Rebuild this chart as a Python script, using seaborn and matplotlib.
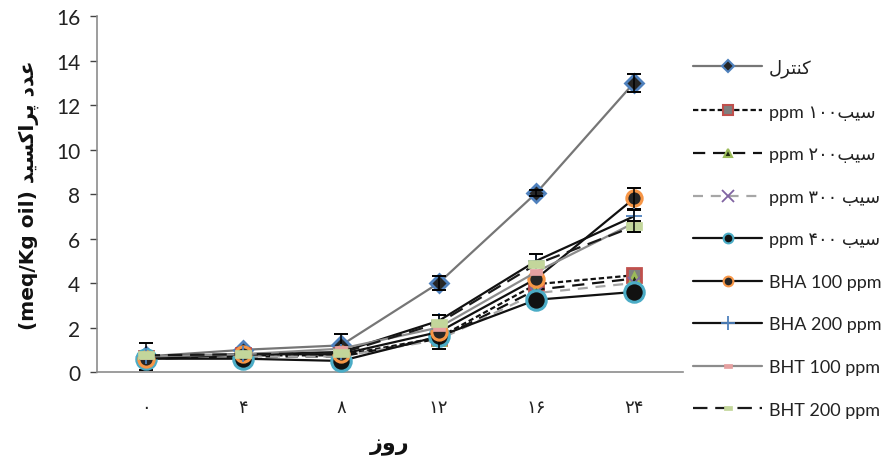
import matplotlib
matplotlib.use("Agg")
import matplotlib.pyplot as plt
from matplotlib.lines import Line2D
import seaborn as sns
import pandas as pd
import numpy as np

# ---------------- data ----------------
days = ["۰", "۴", "۸", "۱۲", "۱۶", "۲۴"]
control = [0.70, 1.00, 1.20, 4.00, 8.05, 13.00]
apple100 = [0.65, 0.75, 0.75, 1.55, 3.95, 4.35]
apple200 = [0.60, 0.70, 0.70, 1.50, 3.70, 4.20]
apple300 = [0.60, 0.70, 0.70, 1.45, 3.55, 4.00]
apple400 = [0.60, 0.60, 0.50, 1.60, 3.25, 3.60]
bha100 = [0.60, 0.80, 0.80, 1.80, 4.20, 7.80]
bha200 = [0.70, 0.80, 0.90, 2.30, 5.00, 7.00]
bht100 = [0.70, 0.80, 1.05, 2.00, 4.50, 6.70]
bht200 = [0.75, 0.80, 0.85, 2.20, 4.85, 6.55]

err_control = [0.60, 0.10, 0.50, 0.30, 0.15, 0.40]
err_apple400 = [0.0, 0.0, 0.0, 0.55, 0.0, 0.0]
err_bha100 = [0.0, 0.0, 0.0, 0.0, 0.0, 0.45]
err_bha200 = [0.10, 0.10, 0.10, 0.25, 0.30, 0.30]
err_bht200 = [0.0, 0.0, 0.0, 0.0, 0.0, 0.25]

# ---------------- minimal Persian shaping for DejaVu Sans ----------------
FORMS = {
    "ا": (0xFE8D, 0xFE8E, None, None),
    "ب": (0xFE8F, 0xFE90, 0xFE91, 0xFE92),
    "پ": (0xFB56, 0xFB57, 0xFB58, 0xFB59),
    "ت": (0xFE95, 0xFE96, 0xFE97, 0xFE98),
    "د": (0xFEA9, 0xFEAA, None, None),
    "ر": (0xFEAD, 0xFEAE, None, None),
    "ز": (0xFEAF, 0xFEB0, None, None),
    "س": (0xFEB1, 0xFEB2, 0xFEB3, 0xFEB4),
    "ع": (0xFEC9, 0xFECA, 0xFECB, 0xFECC),
    "ک": (0xFB8E, 0xFB8F, 0xFB90, 0xFB91),
    "ل": (0xFEDD, 0xFEDE, 0xFEDF, 0xFEE0),
    "ن": (0xFEE5, 0xFEE6, 0xFEE7, 0xFEE8),
    "و": (0xFEED, 0xFEEE, None, None),
    "ی": (0xFBFC, 0xFBFD, 0xFBFE, 0xFBFF),
}


def fa(word):
    """Shape a Persian word and return it in visual (left-to-right) order."""
    out = []
    n = len(word)
    for i, ch in enumerate(word):
        if ch not in FORMS:
            out.append(ch)
            continue
        f = FORMS[ch]
        prev_joins = i > 0 and word[i - 1] in FORMS and FORMS[word[i - 1]][2] is not None
        next_joins = f[2] is not None and i < n - 1 and word[i + 1] in FORMS
        if prev_joins and next_joins:
            code = f[3]
        elif prev_joins:
            code = f[1]
        elif next_joins:
            code = f[2]
        else:
            code = f[0]
        out.append(chr(code))
    return "".join(reversed(out))


labels = [
    fa("کنترل"),
    "ppm ۱۰۰" + fa("سیب"),
    "ppm ۲۰۰" + fa("سیب"),
    "ppm ۳۰۰ " + fa("سیب"),
    "ppm ۴۰۰ " + fa("سیب"),
    "BHA 100 ppm",
    "BHA 200 ppm",
    "BHT 100 ppm",
    "BHT 200 ppm",
]
series = [control, apple100, apple200, apple300, apple400, bha100, bha200, bht100, bht200]
errors = [err_control, None, None, None, err_apple400, err_bha100, err_bha200, None, err_bht200]

rect = [(-1.0, -0.55), (1.0, -0.55), (1.0, 0.55), (-1.0, 0.55), (-1.0, -0.55)]

styles = [
    dict(color="#767676", ls="-", lw=1.6, marker="D", ms=9, mfc="#262626", mec="#4f81bd", mew=2.0, lms=6),
    dict(color="#111111", ls=(0, (2.4, 1.3)), lw=1.6, marker="s", ms=10, mfc="#7f7f7f", mec="#c0504d", mew=2.0, lms=7),
    dict(color="#111111", ls=(0, (5.5, 3.5)), lw=1.6, marker="^", ms=8, mfc="#1f2a10", mec="#9bbb59", mew=2.0, lms=6),
    dict(color="#a6a6a6", ls=(0, (4.5, 3.5)), lw=1.6, marker="x", ms=9, mfc="#8064a2", mec="#8064a2", mew=1.3, lms=8),
    dict(color="#111111", ls="-", lw=1.6, marker="o", ms=14, mfc="#111111", mec="#4bacc6", mew=2.2, lms=7),
    dict(color="#111111", ls="-", lw=1.6, marker="o", ms=11, mfc="#262626", mec="#f79646", mew=2.2, lms=7),
    dict(color="#111111", ls="-", lw=1.6, marker="+", ms=11, mfc="#4f81bd", mec="#4f81bd", mew=1.3, lms=10),
    dict(color="#8c8c8c", ls="-", lw=1.6, marker=rect, ms=9, mfc="#e6a0a0", mec="#e6a0a0", mew=0.5, lms=6),
    dict(color="#1a1a1a", ls=(0, (6.5, 3.5)), lw=1.6, marker=rect, ms=11, mfc="#c3d69b", mec="#c3d69b", mew=0.5, lms=6),
]

# long-form table for seaborn
rows = []
for lab, vals in zip(labels, series):
    for i, v in enumerate(vals):
        rows.append({"series": lab, "pos": i, "value": v})
df = pd.DataFrame(rows)

sns.set_theme(style="white")
plt.rcParams["font.family"] = ["Lato", "DejaVu Sans"]

fig = plt.figure(figsize=(8.88, 4.60), dpi=100)
ax = fig.add_axes([0.109, 0.189, 0.660, 0.774])

handles = []
for k, (lab, st, err) in enumerate(zip(labels, styles, errors)):
    sub = df[df["series"] == lab]
    sns.lineplot(data=sub, x="pos", y="value", ax=ax, color=st["color"], linewidth=st["lw"],
                 linestyle=st["ls"], marker=st["marker"], markersize=st["ms"],
                 markerfacecolor=st["mfc"], markeredgecolor=st["mec"], markeredgewidth=st["mew"],
                 legend=False, zorder=3 + k, errorbar=None)
    if err is not None:
        e = np.array(err)
        mask = e > 0
        ax.errorbar(sub["pos"].to_numpy()[mask], sub["value"].to_numpy()[mask], yerr=e[mask],
                    fmt="none", ecolor="black", elinewidth=1.1, capsize=5, capthick=1.4,
                    zorder=3 + k)
    handles.append(Line2D([0], [0], color=st["color"], lw=st["lw"], ls=st["ls"], marker=st["marker"],
                          markersize=st["lms"], markerfacecolor=st["mfc"],
                          markeredgecolor=st["mec"], markeredgewidth=min(st["mew"], 1.5)))

ax.set_xlim(-0.5, 5.5)
ax.set_ylim(0, 16)
ax.set_yticks(range(0, 17, 2))
ax.set_xticks(range(6))
ax.set_xticklabels(days, fontsize=13, color="#222222", family=["DejaVu Sans"])
ax.tick_params(axis="y", labelsize=15, colors="#444444", length=5, width=1, direction="out",
               pad=7, left=True)
ax.tick_params(axis="y", labelcolor="#222222")
ax.tick_params(axis="x", length=0, pad=19)
for s in ["top", "right"]:
    ax.spines[s].set_visible(False)
for s in ["left", "bottom"]:
    ax.spines[s].set_color("#8c8c8c")
    ax.spines[s].set_linewidth(1.2)
ax.grid(False)

ax.set_xlabel(fa("روز"), fontsize=16, fontweight="bold", family=["DejaVu Sans"], labelpad=13,
              color="#111111")
ax.set_ylabel("(meq/Kg oil) " + fa("پراکسید") + " " + fa("عدد"), fontsize=14.5,
              fontweight="bold", family=["DejaVu Sans"], labelpad=12, color="#111111")

leg = fig.legend(handles, labels, loc="upper left", bbox_to_anchor=(0.772, 0.886),
                 frameon=False, fontsize=13, handlelength=3.85, handletextpad=0.35,
                 labelspacing=1.47, borderaxespad=0)
for t in leg.get_texts():
    t.set_color("#222222")
    t.set_fontfamily(["Lato", "DejaVu Sans"])

fig.savefig("out.png", dpi=100, facecolor="white")
